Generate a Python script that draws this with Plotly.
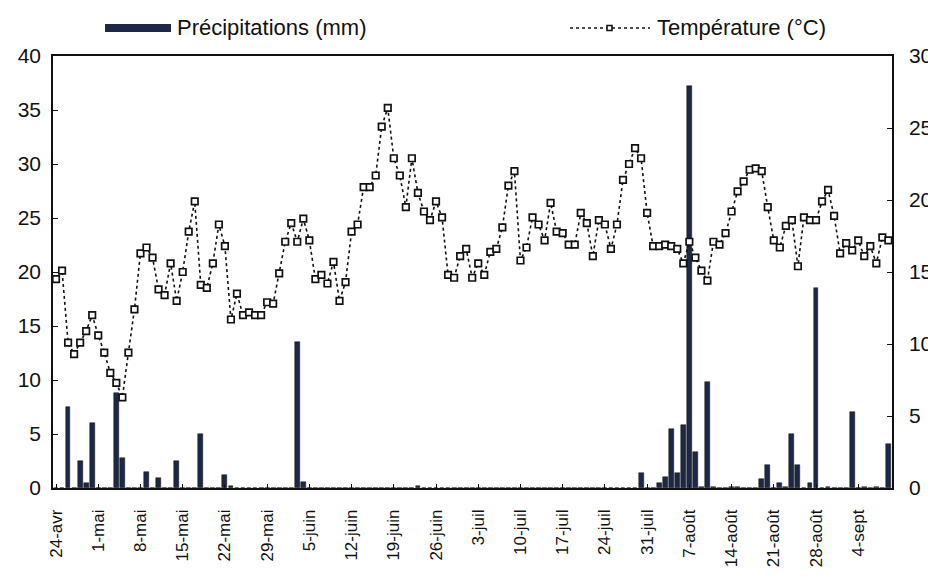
import pandas as pd
import plotly.graph_objects as go

# ---- data (daily values, starting 24 April) ----
start_date = "2021-04-24"

temperature = [
    14.5, 15.1, 10.1, 9.3, 10.1, 10.9, 12.0, 10.6, 9.4, 8.0,
    7.3, 6.3, 9.4, 12.4, 16.3, 16.7, 16.0, 13.8, 13.4, 15.6,
    13.0, 15.0, 17.8, 19.9, 14.1, 13.9, 15.6, 18.3, 16.8, 11.7,
    13.5, 12.0, 12.2, 12.0, 12.0, 12.9, 12.8, 14.9, 17.1, 18.4,
    17.1, 18.7, 17.2, 14.5, 14.8, 14.2, 15.7, 13.0, 14.3, 17.8,
    18.3, 20.9, 20.9, 21.7, 25.1, 26.4, 22.9, 21.7, 19.5, 22.9,
    20.5, 19.2, 18.6, 19.9, 18.8, 14.8, 14.6, 16.1, 16.6, 14.6,
    15.6, 14.8, 16.4, 16.6, 18.1, 21.0, 22.0, 15.8, 16.7, 18.8,
    18.3, 17.2, 19.8, 17.8, 17.7, 16.9, 16.9, 19.1, 18.4, 16.1,
    18.6, 18.3, 16.6, 18.3, 21.4, 22.5, 23.6, 22.9, 19.1, 16.8,
    16.8, 16.9, 16.8, 16.6, 15.6, 17.1, 16.0, 15.1, 14.4, 17.1,
    16.9, 17.7, 19.2, 20.6, 21.3, 22.1, 22.2, 22.0, 19.5, 17.2,
    16.7, 18.2, 18.6, 15.4, 18.8, 18.6, 18.6, 19.9, 20.7, 18.9,
    16.3, 17.0, 16.5, 17.2, 16.1, 16.8, 15.6, 17.4, 17.2,
]

precipitation = [
    0, 0, 7.5, 0, 2.5, 0.5, 6.0, 0, 0, 0,
    8.8, 2.8, 0, 0, 0, 1.5, 0, 0.9, 0, 0,
    2.5, 0, 0, 0, 5.0, 0, 0, 0, 1.2, 0.2,
    0, 0, 0, 0, 0, 0, 0, 0, 0, 0,
    13.5, 0.6, 0, 0, 0, 0, 0, 0, 0, 0,
    0, 0, 0, 0, 0, 0, 0, 0, 0, 0,
    0.2, 0, 0, 0, 0, 0, 0, 0, 0, 0,
    0, 0, 0, 0, 0, 0, 0, 0, 0, 0,
    0, 0, 0, 0, 0, 0, 0, 0, 0, 0,
    0, 0, 0, 0, 0, 0, 0, 1.4, 0, 0,
    0.5, 1.0, 5.5, 1.4, 5.8, 37.2, 3.3, 0.1, 9.8, 0.1,
    0, 0, 0.1, 0.1, 0, 0, 0, 0.8, 2.1, 0,
    0.5, 0.1, 5.0, 2.1, 0, 0.5, 18.5, 0, 0.1, 0,
    0, 0, 7.0, 0, 0.1, 0, 0.1, 0, 4.1,
]

tick_dates = [
    "2021-04-24", "2021-05-01", "2021-05-08", "2021-05-15", "2021-05-22",
    "2021-05-29", "2021-06-05", "2021-06-12", "2021-06-19", "2021-06-26",
    "2021-07-03", "2021-07-10", "2021-07-17", "2021-07-24", "2021-07-31",
    "2021-08-07", "2021-08-14", "2021-08-21", "2021-08-28", "2021-09-04",
]
tick_labels = [
    "24-avr", "1-mai", "8-mai", "15-mai", "22-mai", "29-mai", "5-juin",
    "12-juin", "19-juin", "26-juin", "3-juil", "10-juil", "17-juil",
    "24-juil", "31-juil", "7-août", "14-août", "21-août", "28-août", "4-sept",
]

left_ticks = [0, 5, 10, 15, 20, 25, 30, 35, 40]
right_ticks = [0, 5, 10, 15, 20, 25, 30]

dates = pd.date_range(start_date, periods=len(temperature), freq="D")

# ---- style ----
FONT = "Liberation Sans, Arial, sans-serif"
BAR_COLOR = "#1c2845"
# the page body has an 8px margin, so the figure is offset by 8px
W, H = 928, 560
L, R, T, B = 45, 44, 48, 80
PAGE_L, PAGE_BOTTOM = 53, 488
PW, PH = W - L - R, H - T - B


def px(x):  # page pixel -> paper
    return (x - PAGE_L) / PW


def py(y):  # page pixel -> paper
    return (PAGE_BOTTOM - y) / PH


fig = go.Figure()

fig.add_trace(go.Bar(
    x=dates, y=precipitation, name="Précipitations (mm)",
    marker=dict(color=BAR_COLOR, line=dict(color="#111111", width=0.5)),
    width=0.8 * 86400000, yaxis="y",
))

fig.add_trace(go.Scatter(
    x=dates, y=temperature, name="Température (°C)", yaxis="y2",
    mode="lines+markers",
    line=dict(color="#111111", width=1.6, dash="3px,3px"),
    marker=dict(symbol="square", size=6.5, color="white",
                line=dict(color="#111111", width=1.7)),
))

x_start = pd.Timestamp(start_date) - pd.Timedelta(hours=12)
x_end = pd.Timestamp(start_date) + pd.Timedelta(days=138.6)

fig.update_layout(
    width=W, height=H,
    margin=dict(l=L, r=R, t=T, b=B, autoexpand=False),
    paper_bgcolor="white", plot_bgcolor="white",
    showlegend=False, bargap=0,
    font=dict(family=FONT, color="#111111"),
    xaxis=dict(
        type="date", range=[x_start, x_end], automargin=False,
        tickvals=pd.to_datetime(tick_dates), ticktext=tick_labels,
        tickangle=-90, tickfont=dict(size=17),
        ticks="inside", ticklen=4, tickcolor="#111111",
        showline=True, linecolor="#111111", linewidth=1.5, mirror=True,
        showgrid=False, zeroline=False, ticklabelstandoff=13,
    ),
    yaxis=dict(
        range=[0, 40], tickvals=left_ticks, tickfont=dict(size=21),
        automargin=False,
        ticks="inside", ticklen=5, tickcolor="#111111",
        showline=True, linecolor="#111111", linewidth=1.5, mirror=True,
        showgrid=False, zeroline=False, ticklabelstandoff=6,
    ),
    yaxis2=dict(
        range=[0, 30], tickvals=right_ticks, tickfont=dict(size=21),
        overlaying="y", side="right", automargin=False,
        ticks="inside", ticklen=5, tickcolor="#111111",
        showline=True, linecolor="#111111", linewidth=1.5,
        showgrid=False, zeroline=False, ticklabelstandoff=11,
    ),
)

# ---- legend drawn at the top ----
fig.add_shape(type="rect", xref="paper", yref="paper",
              x0=px(105), x1=px(171), y0=py(32), y1=py(24),
              fillcolor=BAR_COLOR, line=dict(width=0))
fig.add_annotation(xref="paper", yref="paper", x=px(175), y=py(27),
                   text="Précipitations (mm)", showarrow=False,
                   xanchor="left", yanchor="middle",
                   font=dict(size=22, family=FONT, color="#111111"))
fig.add_shape(type="line", xref="paper", yref="paper",
              x0=px(570), x1=px(650), y0=py(28), y1=py(28),
              line=dict(color="#111111", width=1.6, dash="3px,3px"))
fig.add_shape(type="rect", xref="paper", yref="paper",
              x0=px(607), x1=px(612), y0=py(30.5), y1=py(25.5),
              fillcolor="white", line=dict(color="#111111", width=1.6))
fig.add_annotation(xref="paper", yref="paper", x=px(655), y=py(27),
                   text="Température (°C)", showarrow=False,
                   xanchor="left", yanchor="middle",
                   font=dict(size=22, family=FONT, color="#111111"))

fig.write_html("out.html")
